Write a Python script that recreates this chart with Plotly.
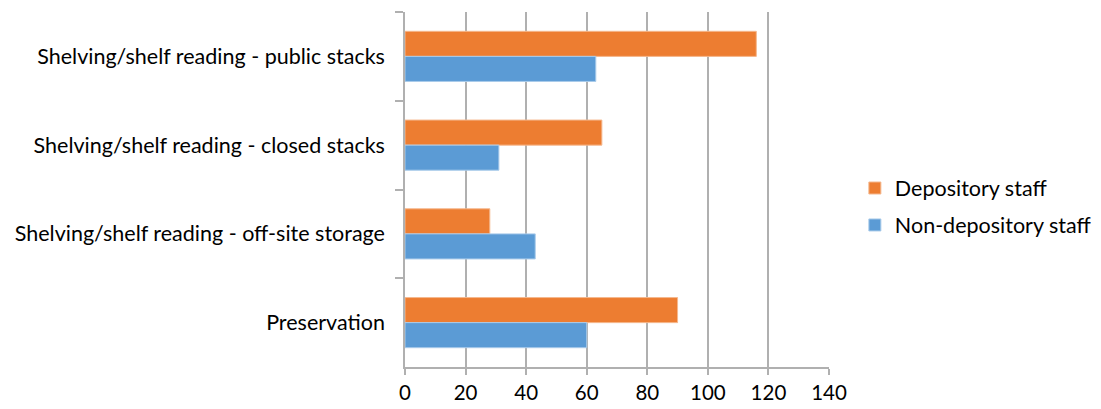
import plotly.graph_objects as go

# Tasks, listed top to bottom
categories = [
    "Shelving/shelf reading - public stacks",
    "Shelving/shelf reading - closed stacks",
    "Shelving/shelf reading - off-site storage",
    "Preservation",
]
depository_staff = [116, 65, 28, 90]
non_depository_staff = [63, 31, 43, 60]
x_ticks = [0, 20, 40, 60, 80, 100, 120, 140]

FONT = "Lato, 'Gill Sans', 'Open Sans', sans-serif"
FS = 21.5

fig = go.Figure()
fig.add_trace(go.Bar(
    y=categories, x=depository_staff, orientation="h",
    name="Depository staff", legendgroup="dep",
    marker=dict(color="#ED7D31", line=dict(color="#F5B88E", width=1)),
))
fig.add_trace(go.Bar(
    y=categories, x=non_depository_staff, orientation="h",
    name="Non-depository staff", legendgroup="nondep",
    marker=dict(color="#5B9BD5", line=dict(color="#A9CBEA", width=1)),
))

fig.update_layout(
    width=1101, height=409,
    margin=dict(l=405, r=272, t=12, b=42, autoexpand=False),
    paper_bgcolor="white", plot_bgcolor="white",
    barmode="group", bargap=0.435, bargroupgap=0,
    font=dict(family=FONT, size=FS, color="#000000"),
    legend=dict(
        x=1.061, xanchor="left", y=0.452, yanchor="middle",
        font=dict(family=FONT, size=FS, color="#000000"),
        traceorder="grouped", tracegroupgap=6, itemwidth=30,
    ),
    xaxis=dict(
        range=[0, 140], tickvals=x_ticks, ticktext=[str(v) for v in x_ticks],
        showgrid=True, gridcolor="#B0B0B0", gridwidth=1.5,
        showline=True, linecolor="#B0B0B0", linewidth=1.5,
        ticks="outside", ticklen=6, tickcolor="#B0B0B0", tickwidth=1.5,
        ticklabelstandoff=1, automargin=False,
        zeroline=False, tickfont=dict(family=FONT, size=20.5),
    ),
    yaxis=dict(
        autorange="reversed", automargin=False,
        showline=True, linecolor="#B0B0B0", linewidth=1.5,
        ticks="outside", tickson="boundaries", ticklen=8,
        tickcolor="#B0B0B0", tickwidth=1.5, ticklabelstandoff=14,
        showgrid=False, tickfont=dict(family=FONT, size=FS),
    ),
)

fig.write_html("out.html")
